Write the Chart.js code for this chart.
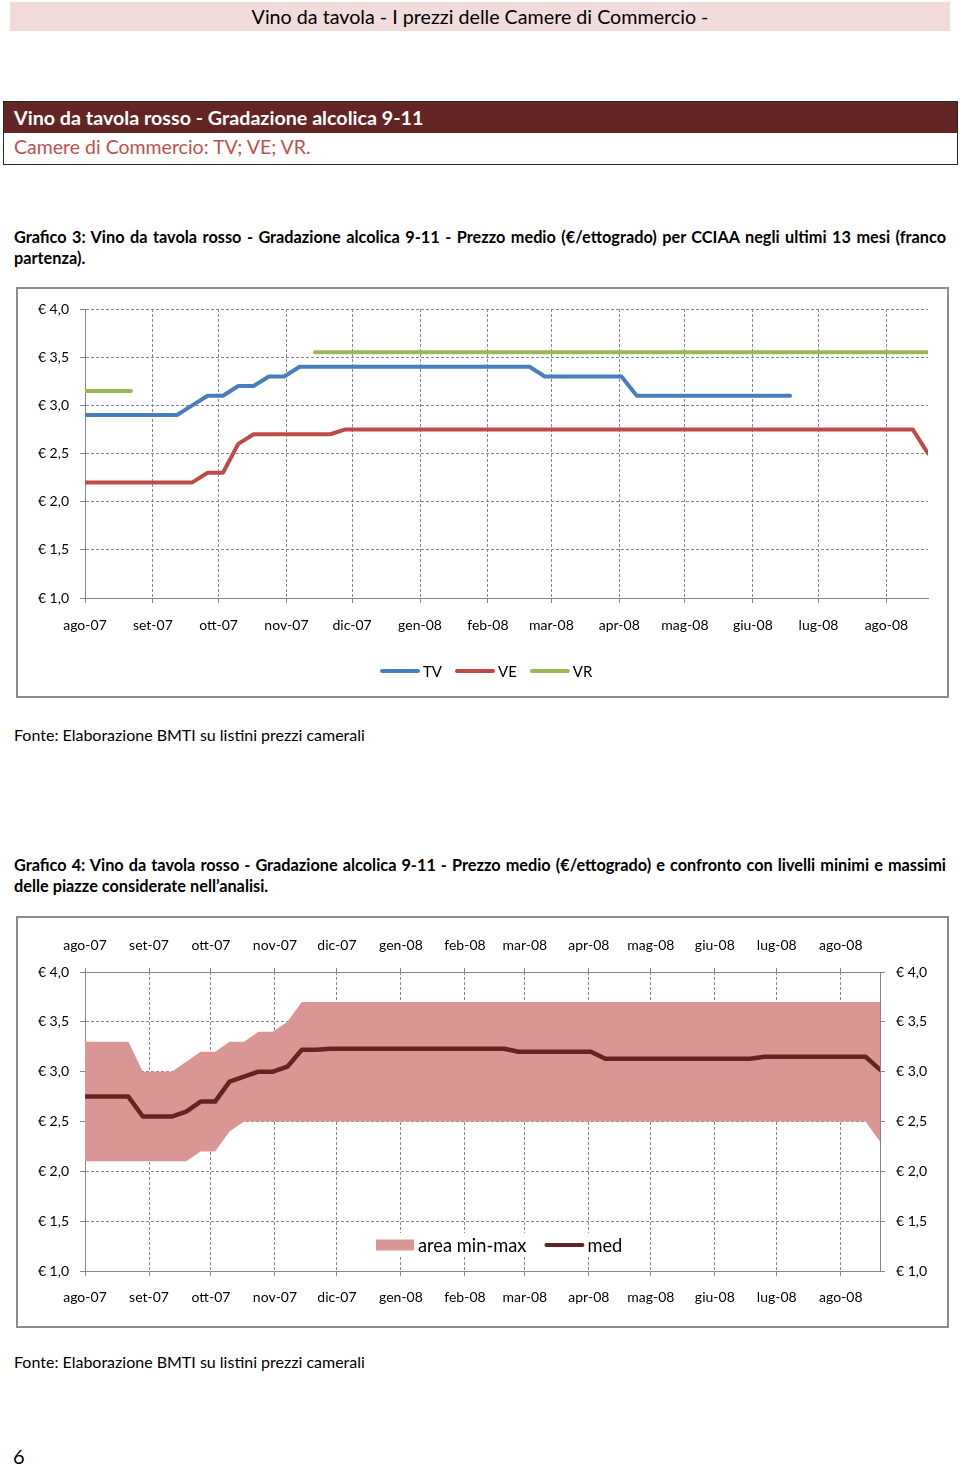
<!DOCTYPE html>
<html>
<head>
<meta charset="utf-8">
<script src="https://cdn.jsdelivr.net/npm/chart.js@4.4.1/dist/chart.umd.min.js"></script>
<style>
  body { margin: 0; width: 960px; height: 1465px; background: #fff; font-family: Lato, sans-serif; color: #000; position: relative; overflow: hidden; }
  .abs { position: absolute; white-space: nowrap; }
  #hdr { left: 10px; top: 2px; width: 940px; height: 29px; line-height: 29px; background: #f2dcdb; text-align: center; font-size: 19.7px; }
  #box { left: 3px; top: 101px; width: 955px; height: 64px; box-sizing: border-box; border: 1px solid #262626; }
  #boxTitle { left: 0; top: 0; width: 100%; height: 31px; background: #632523; color: #fff; font-weight: bold; font-size: 19.7px; line-height: 31px; padding-left: 10px; box-sizing: border-box; }
  #boxSub { left: 10px; top: 31px; line-height: 28px; font-size: 19.5px; color: #c0504d; }
  .cap { left: 14px; width: 932px; font-size: 16.3px; font-weight: bold; line-height: 21px; }
  .cap .l1 { text-align: justify; text-align-last: justify; word-spacing: -1px; }
  .src { left: 14px; font-size: 16px; line-height: 21px; }
  .frame { left: 16px; width: 933px; box-sizing: border-box; border: 2px solid #8c8c8c; }
  .frame canvas { position: absolute; left: 0; top: 0; }
</style>
</head>
<body>

<div id="hdr" class="abs">Vino da tavola - I prezzi delle Camere di Commercio -</div>

<div id="box" class="abs">
  <div id="boxTitle" class="abs">Vino da tavola rosso - Gradazione alcolica 9-11</div>
  <div id="boxSub" class="abs">Camere di Commercio: TV; VE; VR.</div>
</div>

<div class="abs cap" style="top:226px">
  <div class="l1">Grafico 3: Vino da tavola rosso - Gradazione alcolica 9-11 - Prezzo medio (€/ettogrado) per CCIAA negli ultimi 13 mesi (franco</div>
  <div>partenza).</div>
</div>

<div class="abs frame" style="top:287px;height:411px"><canvas id="chart1" width="929" height="407"></canvas></div>

<div class="abs src" style="top:724px">Fonte: Elaborazione BMTI su listini prezzi camerali</div>

<div class="abs cap" style="top:854px">
  <div class="l1">Grafico 4: Vino da tavola rosso - Gradazione alcolica 9-11 - Prezzo medio (€/ettogrado) e confronto con livelli minimi e massimi</div>
  <div>delle piazze considerate nell’analisi.</div>
</div>

<div class="abs frame" style="top:916px;height:412px"><canvas id="chart2" width="929" height="408"></canvas></div>

<div class="abs src" style="top:1351px">Fonte: Elaborazione BMTI su listini prezzi camerali</div>

<div class="abs" style="left:13px;top:1444px;font-size:20px;line-height:24px">6</div>

<script>
// weekly survey dates
const weeks = [
  '2007-08-01','2007-08-08','2007-08-15','2007-08-22','2007-08-29',
  '2007-09-05','2007-09-12','2007-09-19','2007-09-26',
  '2007-10-03','2007-10-10','2007-10-17','2007-10-24','2007-10-31',
  '2007-11-07','2007-11-14','2007-11-21','2007-11-28',
  '2007-12-05','2007-12-12','2007-12-19','2007-12-26',
  '2008-01-02','2008-01-09','2008-01-16','2008-01-23','2008-01-30',
  '2008-02-06','2008-02-13','2008-02-20','2008-02-27',
  '2008-03-05','2008-03-12','2008-03-19','2008-03-26',
  '2008-04-02','2008-04-09','2008-04-16','2008-04-23','2008-04-30',
  '2008-05-07','2008-05-14','2008-05-21','2008-05-28',
  '2008-06-04','2008-06-11','2008-06-18','2008-06-25',
  '2008-07-02','2008-07-09','2008-07-16','2008-07-23','2008-07-30',
  '2008-08-06','2008-08-13','2008-08-20'
];

const monthStarts = ['2007-08-01','2007-09-01','2007-10-01','2007-11-01','2007-12-01','2008-01-01',
  '2008-02-01','2008-03-01','2008-04-01','2008-05-01','2008-06-01','2008-07-01','2008-08-01'];
const monthLabels = ['ago-07','set-07','ott-07','nov-07','dic-07','gen-08','feb-08',
  'mar-08','apr-08','mag-08','giu-08','lug-08','ago-08'];
const yTicks = [1.0, 1.5, 2.0, 2.5, 3.0, 3.5, 4.0];

// Grafico 3 - prezzo medio per CCIAA (€/ettogrado)
const tv = [2.9,2.9,2.9,2.9,2.9,2.9,2.9,3.0,3.1,3.1,3.2,3.2,3.3,3.3,
  3.4,3.4,3.4,3.4,3.4,3.4,3.4,3.4,3.4,3.4,3.4,3.4,3.4,3.4,3.4,3.4,
  3.3,3.3,3.3,3.3,3.3,3.3,
  3.1,3.1,3.1,3.1,3.1,3.1,3.1,3.1,3.1,3.1,3.1,
  null,null,null,null,null,null,null,null,null];
const ve = [2.2,2.2,2.2,2.2,2.2,2.2,2.2,2.2,2.3,2.3,2.6,2.7,2.7,2.7,2.7,2.7,2.7,
  2.75,2.75,2.75,2.75,2.75,2.75,2.75,2.75,2.75,2.75,2.75,2.75,2.75,2.75,2.75,2.75,2.75,2.75,2.75,
  2.75,2.75,2.75,2.75,2.75,2.75,2.75,2.75,2.75,2.75,2.75,2.75,2.75,2.75,2.75,2.75,2.75,2.75,2.75,
  2.5];
const vr = [3.15,3.15,3.15,3.15,
  null,null,null,null,null,null,null,null,null,null,null,
  3.55,3.55,3.55,3.55,3.55,3.55,3.55,3.55,3.55,3.55,3.55,3.55,3.55,3.55,3.55,3.55,3.55,3.55,3.55,3.55,
  3.55,3.55,3.55,3.55,3.55,3.55,3.55,3.55,3.55,3.55,3.55,3.55,3.55,3.55,3.55,3.55,3.55,3.55,3.55,3.55,3.55];

// Grafico 4 - minimo, massimo, media
const areaMax = [3.3,3.3,3.3,3.3,3.0,3.0,3.0,3.1,3.2,3.2,3.3,3.3,3.4,3.4,3.5,
  3.7,3.7,3.7,3.7,3.7,3.7,3.7,3.7,3.7,3.7,3.7,3.7,3.7,3.7,3.7,3.7,3.7,3.7,3.7,3.7,
  3.7,3.7,3.7,3.7,3.7,3.7,3.7,3.7,3.7,3.7,3.7,3.7,3.7,3.7,3.7,3.7,3.7,3.7,3.7,3.7,3.7];
const areaMin = [2.1,2.1,2.1,2.1,2.1,2.1,2.1,2.1,2.2,2.2,2.4,
  2.5,2.5,2.5,2.5,2.5,2.5,2.5,2.5,2.5,2.5,2.5,2.5,2.5,2.5,2.5,2.5,2.5,2.5,2.5,2.5,2.5,2.5,
  2.5,2.5,2.5,2.5,2.5,2.5,2.5,2.5,2.5,2.5,2.5,2.5,2.5,2.5,2.5,2.5,2.5,2.5,2.5,2.5,2.5,2.5,
  2.3];
const med = [2.75,2.75,2.75,2.75,2.55,2.55,2.55,2.6,2.7,2.7,2.9,2.95,3.0,3.0,3.05,3.22,3.22,
  3.23,3.23,3.23,3.23,3.23,3.23,3.23,3.23,3.23,3.23,3.23,3.23,3.23,
  3.2,3.2,3.2,3.2,3.2,3.2,
  3.13,3.13,3.13,3.13,3.13,3.13,3.13,3.13,3.13,3.13,3.13,
  3.15,3.15,3.15,3.15,3.15,3.15,3.15,3.15,
  3.02];

Chart.defaults.font.family = 'Lato';
Chart.defaults.font.size = 14;
Chart.defaults.color = '#000';

const GRID = '#878787';
const AXIS = '#868686';

function dayOf(s) {
    return (Date.parse(s) - Date.parse(weeks[0])) / 864e5;
}

function points(vals) {
    return weeks.map((w, i) => ({x: dayOf(w), y: vals[i]}));
}

function euro(v) {
    return '€ ' + v.toFixed(1).replace('.', ',');
}

function xAxis(position, onChart, tickLen, pad, fitH) {
    return {
        type: 'linear', position: position,
        min: 0, max: dayOf(weeks[weeks.length - 1]),
        afterBuildTicks: s => { s.ticks = monthStarts.map(m => ({value: dayOf(m)})); },
        afterFit: s => { s.height = fitH; },
        ticks: {autoSkip: false, maxRotation: 0, padding: pad, callback: (v, i) => monthLabels[i]},
        grid: {drawOnChartArea: onChart, color: GRID, tickLength: tickLen, tickColor: AXIS, tickBorderDash: []},
        border: {color: AXIS, width: 1, dash: [3, 2]}
    };
}

function yAxis(position, onChart, fitW) {
    return {
        type: 'linear', position: position, min: 1, max: 4,
        afterBuildTicks: s => { s.ticks = yTicks.map(v => ({value: v})); },
        afterFit: s => { s.width = fitW; },
        ticks: {padding: 11, callback: v => euro(v)},
        grid: {drawOnChartArea: onChart, color: GRID, tickLength: 5, tickColor: AXIS, tickBorderDash: []},
        border: {color: AXIS, width: 1, dash: [3, 2]}
    };
}

// legend drawn inside the canvas at a fixed spot
const inlineLegend = {
    id: 'inlineLegend',
    afterDraw(chart, args, opts) {
        if (!opts.items) return;
        const ctx = chart.ctx;
        ctx.save();
        ctx.font = opts.size + 'px Lato';
        ctx.textBaseline = 'middle';
        let total = 0;
        opts.items.forEach(it => {
            total += opts.sample + opts.gap + ctx.measureText(chart.data.datasets[it].label).width;
        });
        total += opts.spacing * (opts.items.length - 1);
        if (opts.clear) {
            ctx.fillStyle = '#fff';
            ctx.fillRect(opts.x - 4, opts.y - 12, total + 8, 24);
        }
        let x = opts.x;
        opts.items.forEach(it => {
            const ds = chart.data.datasets[it];
            if (ds.fill) {
                ctx.fillStyle = ds.backgroundColor;
                ctx.fillRect(x, opts.y - opts.boxH / 2, opts.sample, opts.boxH);
            } else {
                ctx.strokeStyle = ds.borderColor;
                ctx.lineWidth = opts.lineW;
                ctx.lineCap = 'round';
                ctx.beginPath();
                ctx.moveTo(x + 1, opts.y);
                ctx.lineTo(x + opts.sample - 1, opts.y);
                ctx.stroke();
            }
            x += opts.sample + opts.gap;
            ctx.fillStyle = '#000';
            ctx.fillText(ds.label, x, opts.y + 1);
            x += ctx.measureText(ds.label).width + opts.spacing;
        });
        ctx.restore();
    }
};

function lineSet(label, vals, color, width) {
    return {
        label: label, data: points(vals), borderColor: color, backgroundColor: color,
        borderWidth: width, pointRadius: 0, fill: false, spanGaps: false,
        borderCapStyle: 'round', borderJoinStyle: 'round', tension: 0
    };
}

new Chart(document.getElementById('chart1'), {
    type: 'line',
    data: {
        datasets: [
            lineSet('TV', tv, '#4a7ebb', 4),
            lineSet('VE', ve, '#be4b48', 4),
            lineSet('VR', vr, '#98b954', 4)
        ]
    },
    options: {
        responsive: false, animation: false, devicePixelRatio: 1,
        layout: {padding: {top: 20, right: 19, left: 0, bottom: 0}},
        scales: {
            x: xAxis('bottom', true, 5, 14, 98),
            y: yAxis('left', true, 67)
        },
        plugins: {
            legend: {display: false}, tooltip: {enabled: false},
            inlineLegend: {items: [0, 1, 2], x: 363, y: 382, sample: 38, gap: 4, spacing: 14, size: 15, lineW: 4, boxH: 10}
        }
    },
    plugins: [inlineLegend]
});

const medSet = lineSet('med', med, '#632523', 4.5);
const maxSet = {
    label: 'area min-max', data: points(areaMax), borderColor: 'transparent', borderWidth: 0,
    backgroundColor: '#d99694', pointRadius: 0, fill: '+1', tension: 0
};
const minSet = {
    label: 'min', data: points(areaMin), borderColor: 'transparent', borderWidth: 0,
    backgroundColor: '#d99694', pointRadius: 0, fill: false, tension: 0
};

new Chart(document.getElementById('chart2'), {
    type: 'line',
    data: {datasets: [medSet, maxSet, minSet]},
    options: {
        responsive: false, animation: false, devicePixelRatio: 1,
        layout: {padding: 0},
        scales: {
            x: xAxis('bottom', true, 5, 13, 55),
            x2: xAxis('top', false, 4, 14.5, 54),
            y: yAxis('left', true, 67),
            y2: yAxis('right', false, 67)
        },
        plugins: {
            legend: {display: false}, tooltip: {enabled: false},
            filler: {propagate: false},
            inlineLegend: {items: [1, 0], x: 358, y: 327, sample: 38, gap: 4, spacing: 19, size: 18.3, lineW: 4, boxH: 11, clear: true}
        }
    },
    plugins: [inlineLegend]
});
</script>
</body>
</html>
